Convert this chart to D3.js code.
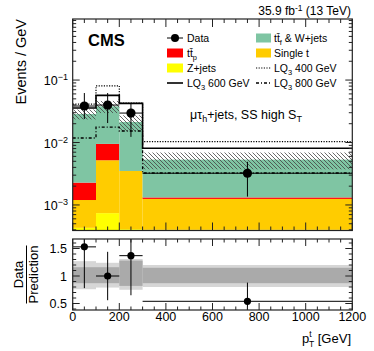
<!DOCTYPE html>
<html>
<head>
<meta charset="utf-8">
<script src="https://cdn.jsdelivr.net/npm/d3@7"></script>
<style>
  body { margin: 0; background: #fff; }
  svg text { font-family: "Liberation Sans", Arial, Helvetica, sans-serif; }
</style>
</head>
<body>
<svg id="chart" width="374" height="351"></svg>
<script>
// bins in pT (GeV)
const binEdges = [0, 100, 200, 300, 1200];
const binCenters = [50, 150, 250, 750];

// background stack, events / GeV (bottom to top)
const zJets   = [0.00043, 0.00074, 0.00041, 0.00040];
const singleT = [0.00077, 0.00446, 0.00309, 0.00085];
const ttP     = [0.00108, 0.00430, 0.00000, 0.00007];
const ttFW    = [0.02630, 0.02850, 0.01780, 0.00400];

// relative uncertainty on the total (hatched band)
const bkgUnc = [0.18, 0.22, 0.28, 0.30];

// signals
const lq400 = [0.0413, 0.0810, 0.0428, 0.0103];
const lq600 = [0.0357, 0.0569, 0.0424, 0.0081];
const lq800 = [0.0118, 0.0177, 0.0153, 0.00325];

// data
const dataVal  = [0.0384, 0.0398, 0.0296, 0.00322];
const dataLow  = [0.0238, 0.0205, 0.0123, 0.00136];
const dataHigh = [0.0620, 0.0620, 0.0428, 0.0049];

// ratio panel
const ratioVal  = [1.53, 1.00, 1.37, 0.54];
const ratioLow  = [0.78, 0.56, 0.65, 0.20];
const ratioHigh = [2.20, 1.44, 2.10, 0.88];
const bandTotLo = [0.76, 0.79, 0.75, 0.80];
const bandTotHi = [1.27, 1.24, 1.31, 1.20];
const bandStatLo = [0.87, 0.87, 0.82, 0.87];
const bandStatHi = [1.16, 1.16, 1.28, 1.15];

const xTicks = [0, 200, 400, 600, 800, 1000, 1200];
const ratioTicks = [0.5, 1, 1.5];
const logTicks = [1e-3, 1e-2, 1e-1];

const colors = { z: "#ffff00", st: "#ffcc00", ttp: "#ff0000", ttf: "#7fc5a3" };

const svg = d3.select("#chart");
const font = "Liberation Sans, Arial, sans-serif";

const x = d3.scaleLinear().domain([0, 1200]).range([72.7, 352.3]);
const y = d3.scaleLog().domain([3.9e-4, 0.95]).range([230.5, 19]);
const yr = d3.scaleLinear().domain([0.382, 1.673]).range([310, 239]);

const defs = svg.append("defs");
const pat = defs.append("pattern").attr("id", "hatch")
  .attr("patternUnits", "userSpaceOnUse").attr("width", 4).attr("height", 4);
pat.append("path").attr("d", "M0,0 L4,4 M-1,3 L1,5 M3,-1 L5,1")
  .attr("stroke", "#444").attr("stroke-width", 0.8);
defs.append("clipPath").attr("id", "clipMain").append("rect")
  .attr("x", x(0)).attr("y", y.range()[1]).attr("width", x(1200) - x(0))
  .attr("height", y.range()[0] - y.range()[1]);
defs.append("clipPath").attr("id", "clipRatio").append("rect")
  .attr("x", x(0)).attr("y", yr.range()[1]).attr("width", x(1200) - x(0))
  .attr("height", yr.range()[0] - yr.range()[1]);

// ---------- main panel ----------
const table = binCenters.map((c, i) => ({
  i: i, z: zJets[i], st: singleT[i], ttp: ttP[i], ttf: ttFW[i]
}));
const stack = d3.stack().keys(["z", "st", "ttp", "ttf"])(table);
const yMin = y.domain()[0];

const gMain = svg.append("g").attr("clip-path", "url(#clipMain)");

gMain.selectAll("g.layer")
  .data(stack)
  .join("g")
  .attr("class", "layer")
  .attr("fill", d => colors[d.key])
  .selectAll("rect")
  .data(d => d)
  .join("rect")
  .attr("x", d => x(binEdges[d.data.i]))
  .attr("width", d => x(binEdges[d.data.i + 1]) - x(binEdges[d.data.i]))
  .attr("y", d => y(Math.max(d[1], yMin)))
  .attr("height", d => Math.max(0, y(Math.max(d[0], yMin)) - y(Math.max(d[1], yMin))));

const totals = table.map(d => d.z + d.st + d.ttp + d.ttf);

gMain.selectAll("rect.unc")
  .data(totals)
  .join("rect")
  .attr("class", "unc")
  .attr("x", (d, i) => x(binEdges[i]))
  .attr("width", (d, i) => x(binEdges[i + 1]) - x(binEdges[i]))
  .attr("y", (d, i) => y(d * (1 + bkgUnc[i])))
  .attr("height", (d, i) => y(d * (1 - bkgUnc[i])) - y(d * (1 + bkgUnc[i])))
  .attr("fill", "url(#hatch)");

const step = d3.line()
  .x(d => x(d[0]))
  .y(d => y(d[1]))
  .curve(d3.curveStepAfter);
function stepPts(vals) {
  const pts = vals.map((v, i) => [binEdges[i], v]);
  pts.push([binEdges[binEdges.length - 1], vals[vals.length - 1]]);
  return pts;
}
const signals = [
  { vals: lq400, dash: "1.2,1.4", w: 1.2 },
  { vals: lq600, dash: null, w: 1.6 },
  { vals: lq800, dash: "3,2,1,2", w: 1.3 }
];
gMain.selectAll("path.sig")
  .data(signals)
  .join("path")
  .attr("class", "sig")
  .attr("d", d => step(stepPts(d.vals)))
  .attr("fill", "none")
  .attr("stroke", "#000")
  .attr("stroke-width", d => d.w)
  .attr("stroke-dasharray", d => d.dash);

const gData = gMain.append("g");
gData.selectAll("line.ex")
  .data(dataVal)
  .join("line")
  .attr("x1", (d, i) => x(binEdges[i])).attr("x2", (d, i) => x(binEdges[i + 1]))
  .attr("y1", d => y(d)).attr("y2", d => y(d))
  .attr("stroke", "#000").attr("stroke-width", 1);
gData.selectAll("line.ey")
  .data(dataVal)
  .join("line")
  .attr("x1", (d, i) => x(binCenters[i])).attr("x2", (d, i) => x(binCenters[i]))
  .attr("y1", (d, i) => y(dataLow[i])).attr("y2", (d, i) => y(dataHigh[i]))
  .attr("stroke", "#000").attr("stroke-width", 1);
gData.selectAll("circle")
  .data(dataVal)
  .join("circle")
  .attr("cx", (d, i) => x(binCenters[i]))
  .attr("cy", d => y(d))
  .attr("r", 4.6)
  .attr("fill", "#000");

// ---------- ratio panel ----------
const gRatio = svg.append("g").attr("clip-path", "url(#clipRatio)");
gRatio.selectAll("rect.tot")
  .data(bandTotLo)
  .join("rect")
  .attr("x", (d, i) => x(binEdges[i]))
  .attr("width", (d, i) => x(binEdges[i + 1]) - x(binEdges[i]))
  .attr("y", (d, i) => yr(bandTotHi[i]))
  .attr("height", (d, i) => yr(d) - yr(bandTotHi[i]))
  .attr("fill", "#d6d6d6");
gRatio.selectAll("rect.stat")
  .data(bandStatLo)
  .join("rect")
  .attr("x", (d, i) => x(binEdges[i]))
  .attr("width", (d, i) => x(binEdges[i + 1]) - x(binEdges[i]))
  .attr("y", (d, i) => yr(bandStatHi[i]))
  .attr("height", (d, i) => yr(d) - yr(bandStatHi[i]))
  .attr("fill", "#aaaaaa");
gRatio.selectAll("line.ex")
  .data(ratioVal)
  .join("line")
  .attr("x1", (d, i) => x(binEdges[i])).attr("x2", (d, i) => x(binEdges[i + 1]))
  .attr("y1", d => yr(d)).attr("y2", d => yr(d))
  .attr("stroke", "#000").attr("stroke-width", 1);
gRatio.selectAll("line.ey")
  .data(ratioVal)
  .join("line")
  .attr("x1", (d, i) => x(binCenters[i])).attr("x2", (d, i) => x(binCenters[i]))
  .attr("y1", (d, i) => yr(ratioLow[i])).attr("y2", (d, i) => yr(ratioHigh[i]))
  .attr("stroke", "#000").attr("stroke-width", 1);
gRatio.selectAll("circle")
  .data(ratioVal)
  .join("circle")
  .attr("cx", (d, i) => x(binCenters[i]))
  .attr("cy", d => yr(d))
  .attr("r", 3.6)
  .attr("fill", "#000");

// ---------- frames and ticks ----------
function frame(yTop, yBot) {
  svg.append("rect")
    .attr("x", x(0)).attr("y", yTop)
    .attr("width", x(1200) - x(0)).attr("height", yBot - yTop)
    .attr("fill", "none").attr("stroke", "#222").attr("stroke-width", 1.2);
}
function xTickMarks(yTop, yBot, major, minor) {
  const g = svg.append("g").attr("stroke", "#222").attr("stroke-width", 1);
  d3.range(0, 1201, 50).forEach(v => {
    const len = v % 200 === 0 ? major : minor;
    g.append("line").attr("x1", x(v)).attr("x2", x(v)).attr("y1", yBot).attr("y2", yBot - len);
    g.append("line").attr("x1", x(v)).attr("x2", x(v)).attr("y1", yTop).attr("y2", yTop + len);
  });
}
function yTickMarks(vals, scale, isMajor) {
  const g = svg.append("g").attr("stroke", "#222").attr("stroke-width", 1);
  vals.forEach(v => {
    const len = isMajor(v) ? 7 : 3.5;
    const yy = scale(v);
    g.append("line").attr("x1", x(0)).attr("x2", x(0) + len).attr("y1", yy).attr("y2", yy);
    g.append("line").attr("x1", x(1200)).attr("x2", x(1200) - len).attr("y1", yy).attr("y2", yy);
  });
}

frame(19, 230.5);
xTickMarks(19, 230.5, 8, 4);
const logMinor = [];
[1e-4, 1e-3, 1e-2, 1e-1].forEach(dec => d3.range(1, 10).forEach(k => {
  const v = dec * k;
  if (v >= y.domain()[0] && v <= y.domain()[1]) logMinor.push(v);
}));
yTickMarks(logMinor, y, v => logTicks.some(t => Math.abs(t - v) / t < 1e-6));

frame(239, 310);
xTickMarks(239, 310, 7, 3.5);
const rMinor = d3.range(4, 17).map(k => k / 10);
yTickMarks(rMinor, yr, v => Math.abs(v * 2 - Math.round(v * 2)) < 1e-6);

// ---------- labels ----------
svg.selectAll("text.xlab")
  .data(xTicks)
  .join("text")
  .attr("class", "xlab")
  .attr("x", d => x(d)).attr("y", 321)
  .attr("text-anchor", "middle")
  .attr("font-size", 12.5)
  .text(d => d);

const ylab = svg.selectAll("text.ylab")
  .data(logTicks)
  .join("text")
  .attr("class", "ylab")
  .attr("x", 68).attr("y", d => y(d) + 5)
  .attr("text-anchor", "end")
  .attr("font-size", 12.5);
ylab.append("tspan").text("10");
ylab.append("tspan").attr("dy", -5).attr("font-size", 9)
  .text(d => "\u2212" + Math.round(-Math.log10(d)));

svg.selectAll("text.rlab")
  .data(ratioTicks)
  .join("text")
  .attr("class", "rlab")
  .attr("x", 67).attr("y", d => yr(d) + 4.5)
  .attr("text-anchor", "end")
  .attr("font-size", 12.5)
  .text(d => d);

svg.append("text")
  .attr("transform", "translate(26,19) rotate(-90)")
  .attr("text-anchor", "end")
  .attr("font-size", 14.5)
  .text("Events / GeV");

const fr = svg.append("g").attr("transform", "translate(0,274.5) rotate(-90)");
fr.append("text").attr("x", 0).attr("y", 23).attr("text-anchor", "middle")
  .attr("font-size", 13).text("Data");
fr.append("line").attr("x1", -29).attr("x2", 29).attr("y1", 26.5).attr("y2", 26.5)
  .attr("stroke", "#000").attr("stroke-width", 1);
fr.append("text").attr("x", 0).attr("y", 37.5).attr("text-anchor", "middle")
  .attr("font-size", 13).text("Prediction");

const xt = svg.append("text")
  .attr("x", 351).attr("y", 343)
  .attr("text-anchor", "end")
  .attr("font-size", 13);
xt.append("tspan").text("p");
xt.append("tspan").attr("font-size", 8.5).attr("dy", -6).text("t");
xt.append("tspan").attr("font-size", 8.5).attr("dx", -2.6).attr("dy", 10).text("T");
xt.append("tspan").attr("dy", -4).text(" [GeV]");

svg.append("text")
  .attr("x", 88).attr("y", 46)
  .attr("font-size", 16.5).attr("font-weight", "bold")
  .text("CMS");

const lumi = svg.append("text")
  .attr("x", 351).attr("y", 15)
  .attr("text-anchor", "end")
  .attr("font-size", 12);
lumi.append("tspan").text("35.9 fb");
lumi.append("tspan").attr("dy", -4).attr("font-size", 8.5).text("-1");
lumi.append("tspan").attr("dy", 4).text(" (13 TeV)");

const chan = svg.append("text")
  .attr("x", 190).attr("y", 119)
  .attr("font-size", 12.5);
chan.append("tspan").text("\u03bc\u03c4");
chan.append("tspan").attr("font-size", 9).attr("dy", 3).text("h");
chan.append("tspan").attr("dy", -3).text("+jets, SS high S");
chan.append("tspan").attr("font-size", 9).attr("dy", 3).text("T");

// ---------- legend ----------
const legRows = [38, 53, 68, 83];
const leg = svg.append("g").attr("font-size", 10.5);

function legText(xx, yy, parts) {
  const t = leg.append("text").attr("x", xx).attr("y", yy + 3.8);
  parts.forEach(p => {
    const s = t.append("tspan").text(p.t);
    if (p.sub) s.attr("font-size", 7.5).attr("dy", 3);
    if (p.back) s.attr("dy", -3);
  });
}
function legBox(xx, yy, w, color) {
  leg.append("rect").attr("x", xx).attr("y", yy - 4.5).attr("width", w).attr("height", 9)
    .attr("fill", color);
}
function legLine(xx, yy, w, dash, sw) {
  leg.append("line").attr("x1", xx).attr("x2", xx + w).attr("y1", yy).attr("y2", yy)
    .attr("stroke", "#000").attr("stroke-width", sw).attr("stroke-dasharray", dash);
}

// left column
legLine(167, legRows[0], 16, null, 1);
leg.append("circle").attr("cx", 175).attr("cy", legRows[0]).attr("r", 4).attr("fill", "#000");
legText(187, legRows[0], [{ t: "Data" }]);
legBox(167, legRows[1], 16, colors.ttp);
legText(187, legRows[1], [{ t: "tt\u0304" }, { t: "p", sub: true }]);
legBox(167, legRows[2], 16, colors.z);
legText(187, legRows[2], [{ t: "Z+jets" }]);
legLine(167, legRows[3], 16, null, 1.6);
legText(187, legRows[3], [{ t: "LQ" }, { t: "3", sub: true }, { t: " 600 GeV", back: true }]);

// right column
legBox(256, legRows[0], 15, colors.ttf);
legText(274, legRows[0], [{ t: "tt\u0304" }, { t: "f", sub: true }, { t: " & W+jets", back: true }]);
legBox(256, legRows[1], 15, colors.st);
legText(274, legRows[1], [{ t: "Single t" }]);
legLine(256, legRows[2], 15, "1.2,1.4", 1.2);
legText(274, legRows[2], [{ t: "LQ" }, { t: "3", sub: true }, { t: " 400 GeV", back: true }]);
legLine(256, legRows[3], 15, "3,2,1,2", 1.3);
legText(274, legRows[3], [{ t: "LQ" }, { t: "3", sub: true }, { t: " 800 GeV", back: true }]);
</script>
</body>
</html>
